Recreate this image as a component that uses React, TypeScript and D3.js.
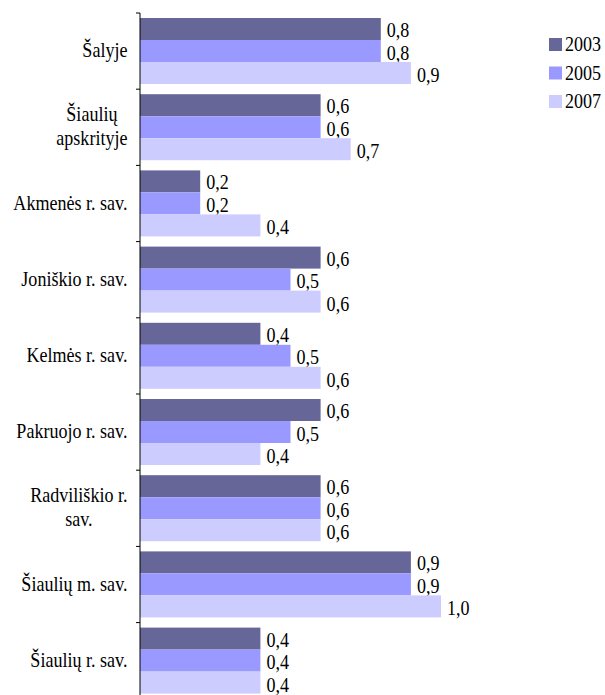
import * as d3 from "d3";
import { useLayoutEffect, useRef, useState } from "react";

const categories = [
  ["Šalyje"],
  ["Šiaulių", "apskrityje"],
  ["Akmenės r. sav."],
  ["Joniškio r. sav."],
  ["Kelmės r. sav."],
  ["Pakruojo r. sav."],
  ["Radviliškio r.", "sav."],
  ["Šiaulių m. sav."],
  ["Šiaulių r. sav."],
];
const years = ["2003", "2005", "2007"];
const v2003 = [0.8, 0.6, 0.2, 0.6, 0.4, 0.6, 0.6, 0.9, 0.4];
const v2005 = [0.8, 0.6, 0.2, 0.5, 0.5, 0.5, 0.6, 0.9, 0.4];
const v2007 = [0.9, 0.7, 0.4, 0.6, 0.6, 0.4, 0.6, 1.0, 0.4];
const colors = ["#666699", "#9999ff", "#ccccff"];

const series = [v2003, v2005, v2007];
const SX = 0.86; // the original text is horizontally condensed

const textProps = {
  fontFamily: "Liberation Serif",
  fontSize: 21,
  fill: "#000",
};

// text squeezed horizontally, anchored at (x, y)
const Label = ({ x, y, anchor = "start", children, cls }: any) => (
  <g transform={`translate(${x},${y}) scale(${SX},1)`}>
    <text className={cls} textAnchor={anchor} {...textProps}>
      {children}
    </text>
  </g>
);

export default function App() {
  const width = 605;
  const height = 695;
  const keys = categories.map((c) => c.join(" "));
  const svgRef = useRef<SVGSVGElement>(null);
  const [widths, setWidths] = useState<number[]>(categories.map(() => 0));

  const y = d3.scaleBand().domain(keys).range([13, 13 + 9 * 76.2]);
  const inner = d3.scaleBand().domain(years).range([5, 71]);
  const x = d3.scaleLinear().domain([0, 1]).range([140, 441]);
  const fmt = (v: number) => d3.format(".1f")(v).replace(".", ",");

  // widest line of each label, so two-line labels can be centred
  useLayoutEffect(() => {
    const svg = d3.select(svgRef.current);
    const w = categories.map((_, i) => {
      let m = 0;
      svg.selectAll(`.lbl-${i} tspan`).each(function () {
        m = Math.max(m, (this as SVGTextContentElement).getComputedTextLength());
      });
      return m * SX;
    });
    setWidths(w);
  }, []);

  return (
    <svg
      ref={svgRef}
      width={width}
      height={height}
      style={{ position: "absolute", left: 0, top: 0, background: "#fff" }}
    >
      {keys.map((k, i) => {
        const y0 = y(k)!;
        const n = categories[i].length;
        const mid = y0 + y.bandwidth() / 2;
        return (
          <g key={k}>
            {years.map((yr, j) => {
              const v = series[j][i];
              const by = y0 + inner(yr)!;
              return (
                <g key={yr}>
                  <rect
                    x={x(0)}
                    y={by}
                    width={x(v) - x(0)}
                    height={inner.bandwidth()}
                    fill={colors[j]}
                  />
                  <Label x={x(v) + 6} y={by + inner.bandwidth() / 2 + 8 + j * 0.5}>
                    {fmt(v)}
                  </Label>
                </g>
              );
            })}
            <Label
              x={n > 1 ? 127.5 - widths[i] / 2 : 127.5}
              y={mid + 6 - ((n - 1) / 2) * 24}
              anchor={n > 1 ? "middle" : "end"}
              cls={`lbl-${i}`}
            >
              {categories[i].map((line, li) => (
                <tspan key={li} x={0} y={li * 24}>
                  {line}
                </tspan>
              ))}
            </Label>
            <line x1={136} x2={140} y1={y0} y2={y0} stroke="#000" />
          </g>
        );
      })}
      <line x1={140} x2={140} y1={13} y2={13 + 9 * 76.2} stroke="#000" />
      {years.map((yr, j) => (
        <g key={yr} transform={`translate(549, ${38 + j * 28.5})`}>
          <rect width={13} height={13} fill={colors[j]} />
          <Label x={16} y={13}>
            {yr}
          </Label>
        </g>
      ))}
    </svg>
  );
}
